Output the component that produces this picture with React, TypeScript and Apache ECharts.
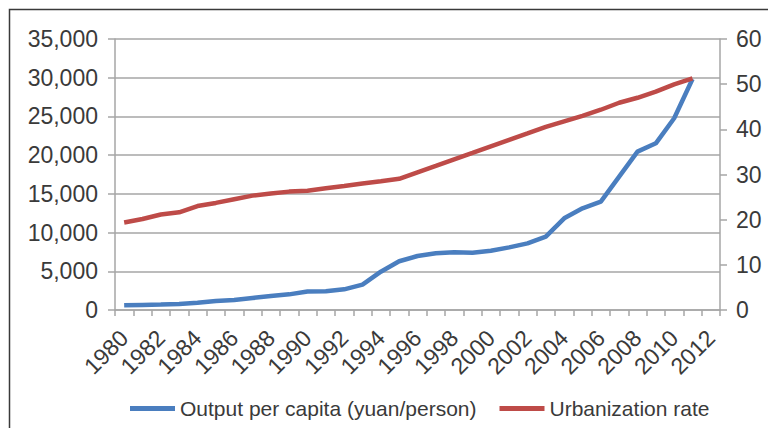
import React, { useEffect, useRef } from "react";
import * as echarts from "echarts";

const years = [
  "1980", "1981", "1982", "1983", "1984", "1985", "1986", "1987", "1988", "1989",
  "1990", "1991", "1992", "1993", "1994", "1995", "1996", "1997", "1998", "1999",
  "2000", "2001", "2002", "2003", "2004", "2005", "2006", "2007", "2008", "2009",
  "2010", "2011", "2012",
];

const outputPerCapita = [
  600, 650, 700, 770, 940, 1160, 1290, 1550, 1810, 2020,
  2400, 2420, 2670, 3270, 4950, 6300, 6970, 7320, 7450, 7400,
  7660, 8090, 8610, 9470, 11840, 13130, 13990, 17220, 20450, 21530,
  24760, 29830,
];

const urbanizationRate = [
  19.39, 20.16, 21.13, 21.62, 23.01, 23.71, 24.52, 25.32, 25.81, 26.21,
  26.41, 26.94, 27.46, 27.99, 28.51, 29.04, 30.48, 31.91, 33.35, 34.78,
  36.22, 37.66, 39.09, 40.53, 41.76, 42.99, 44.34, 45.89, 46.99, 48.34,
  49.95, 51.27,
];

const leftTicks = { min: 0, max: 35000, interval: 5000 };
const rightTicks = { min: 0, max: 60, interval: 10 };

const FONT = "'Liberation Sans', Arial, sans-serif";
const BLUE = "#4a7ebf";
const RED = "#be4b48";
const AXIS = "#a6a6a6";
const TEXT = "#3a3a3a";

export default function App() {
  const ref = useRef<HTMLDivElement>(null);

  useEffect(() => {
    if (!ref.current) return;
    const chart = echarts.init(ref.current, null, { renderer: "svg" });
    chart.setOption({
      animation: false,
      backgroundColor: "#ffffff",
      textStyle: { fontFamily: FONT },
      graphic: [
        {
          type: "rect",
          shape: { x: 9.5, y: 9.5, width: 800, height: 500 },
          style: { fill: "none", stroke: "#3a3a3a", lineWidth: 1.5 },
          silent: true,
        },
      ],
      grid: { left: 115, right: 48, top: 39, bottom: 118, containLabel: false },
      legend: {
        left: 125,
        top: 393,
        icon: "rect",
        itemWidth: 45,
        itemHeight: 5,
        itemGap: 23,
        textStyle: { fontSize: 21, color: TEXT, fontFamily: FONT },
        data: ["Output per capita (yuan/person)", "Urbanization rate"],
      },
      xAxis: {
        type: "category",
        data: years,
        boundaryGap: true,
        axisLine: { lineStyle: { color: AXIS, width: 1.5 } },
        axisTick: { show: true, interval: 0, length: 6, lineStyle: { color: AXIS, width: 1.5 } },
        axisLabel: {
          interval: 1,
          rotate: 45,
          margin: 24,
          fontSize: 23,
          color: TEXT,
          fontFamily: FONT,
        },
        splitLine: { show: false },
      },
      yAxis: [
        {
          type: "value",
          min: leftTicks.min,
          max: leftTicks.max,
          interval: leftTicks.interval,
          position: "left",
          axisLine: { show: true, lineStyle: { color: AXIS, width: 1.5 } },
          axisTick: { show: true, length: 7, lineStyle: { color: AXIS, width: 1.5 } },
          axisLabel: {
            margin: 17,
            fontSize: 23,
            color: TEXT,
            fontFamily: FONT,
            formatter: (v: number) => v.toLocaleString("en-US"),
          },
          splitLine: { show: true, lineStyle: { color: AXIS, width: 1.5 } },
        },
        {
          type: "value",
          min: rightTicks.min,
          max: rightTicks.max,
          interval: rightTicks.interval,
          position: "right",
          axisLine: { show: true, lineStyle: { color: AXIS, width: 1.5 } },
          axisTick: { show: true, length: 7, lineStyle: { color: AXIS, width: 1.5 } },
          axisLabel: { margin: 16, fontSize: 23, color: TEXT, fontFamily: FONT },
          splitLine: { show: false },
        },
      ],
      series: [
        {
          name: "Output per capita (yuan/person)",
          type: "line",
          yAxisIndex: 0,
          data: outputPerCapita,
          showSymbol: false,
          symbol: "none",
          lineStyle: { color: BLUE, width: 4.5 },
          itemStyle: { color: BLUE },
        },
        {
          name: "Urbanization rate",
          type: "line",
          yAxisIndex: 1,
          data: urbanizationRate,
          showSymbol: false,
          symbol: "none",
          lineStyle: { color: RED, width: 4.5 },
          itemStyle: { color: RED },
        },
      ],
    });
    return () => chart.dispose();
  }, []);

  return (
    <div
      ref={ref}
      style={{ position: "fixed", left: 0, top: 0, width: 768, height: 428 }}
    />
  );
}
